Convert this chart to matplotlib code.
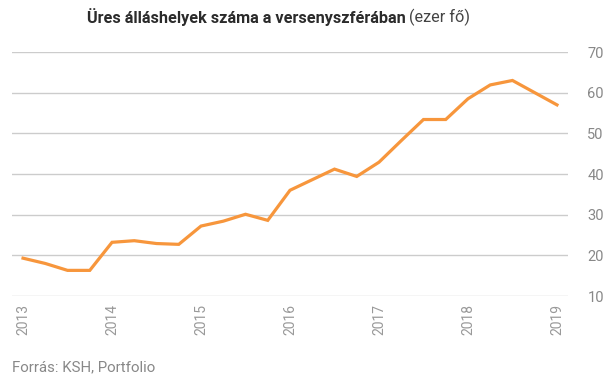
import matplotlib.pyplot as plt

# quarterly vacancies, thousand people
QUARTERS = [2013.0, 2013.25, 2013.5, 2013.75,
            2014.0, 2014.25, 2014.5, 2014.75,
            2015.0, 2015.25, 2015.5, 2015.75,
            2016.0, 2016.25, 2016.5, 2016.75,
            2017.0, 2017.25, 2017.5, 2017.75,
            2018.0, 2018.25, 2018.5, 2018.75,
            2019.0]
VACANCIES = [19.3, 18.0, 16.3, 16.3,
             23.2, 23.6, 22.9, 22.7,
             27.2, 28.4, 30.1, 28.6,
             36.0, 38.6, 41.2, 39.4,
             42.9, 48.2, 53.4, 53.4,
             58.5, 61.9, 63.0, 60.0,
             57.0]
YEARS = [2013, 2014, 2015, 2016, 2017, 2018, 2019]
Y_TICKS = [10, 20, 30, 40, 50, 60, 70]

plt.rcParams['font.family'] = ['Roboto', 'DejaVu Sans']

fig = plt.figure(figsize=(6.05, 3.78), dpi=100)
ax = fig.add_axes([12/605, 82/378, 556/605, 244/378])

ax.plot(QUARTERS, VACANCIES, color='#F7963C', linewidth=2.3, solid_joinstyle='miter')

ax.set_xlim(2012.876, 2019.124)
ax.set_ylim(10, 70)
ax.set_yticks(Y_TICKS)
ax.set_xticks(YEARS)
ax.set_xticklabels([str(y) for y in YEARS], rotation=90)
ax.yaxis.tick_right()
ax.tick_params(axis='y', length=0, pad=14, labelsize=10.5, labelcolor='#888888')
ax.tick_params(axis='x', length=0, pad=6, labelsize=10, labelcolor='#999999')
ax.grid(axis='y', color='#cccccc', linewidth=1)
ax.set_axisbelow(True)
for s in ax.spines.values():
    s.set_visible(False)

# title: bold part + normal unit
t1 = fig.text(87/605, 0.955, 'Üres álláshelyek száma a versenyszférában',
              fontsize=11.7, fontweight='bold', color='#2b2b2b', va='center')
fig.canvas.draw()
bb = t1.get_window_extent()
fig.text(bb.x1 / 605 + 0.006, 0.955, '(ezer fő)', fontsize=11.7,
         color='#444444', va='center')

fig.text(12/605, 11/378, 'Forrás: KSH, Portfolio', fontsize=10.8,
         color='#888888', va='center')

fig.savefig('out.png', dpi=100)
